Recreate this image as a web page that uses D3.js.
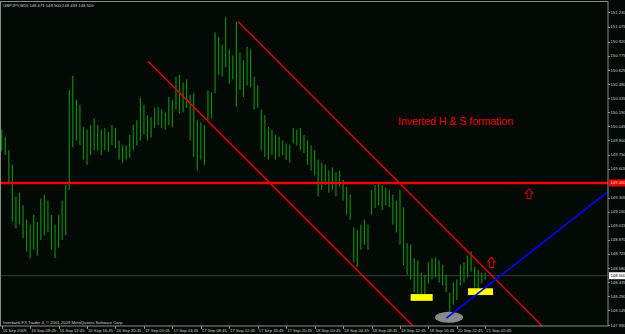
<!DOCTYPE html>
<meta charset="utf-8">
<script src="https://cdnjs.cloudflare.com/ajax/libs/d3/7.8.5/d3.min.js"></script>
<style>

body {
  margin: 0;
  background: #000;
}

svg {
  display: block;
  font-family: "Liberation Sans", Arial, sans-serif;
}

.bar {
  stroke: #0b8c0b;
  stroke-width: 1.2px;
}

.frame {
  fill: none;
  stroke: #8c8c8c;
  stroke-width: 1px;
}

.lbl {
  fill: #c8c8c8;
  font-size: 4.2px;
}

</style>
<body>
<script>

var width = 625,
    height = 334;

var title = "GBPJPY,M15  148.471 148.500 148.433 148.500",
    footer = "Interbank FX Trader 4, \u00a9 2001-2009 MetaQuotes Software Corp.",
    note = "Inverted H & S formation";

// M15 bars, one entry for every second bar (index = 2 * k)
var barStep = 2;
var highs = [
  150.01,149.94,149.80,149.65,149.32,149.36,149.23,149.08,149.03,149.13,
  149.06,149.30,149.34,149.28,149.13,149.03,149.13,149.28,149.44,150.42,
  150.57,150.32,150.27,150.04,150.01,150.06,150.13,150.06,150.01,150.03,
  149.99,150.06,150.03,149.90,149.85,149.85,149.96,150.06,150.11,150.34,
  150.27,150.16,150.14,150.24,150.25,150.22,150.19,150.35,150.32,150.56,
  150.58,150.50,150.53,150.37,150.39,150.11,150.09,150.06,150.42,150.40,
  151.02,150.97,150.89,151.18,150.84,150.78,151.13,150.81,150.73,150.87,
  150.84,150.56,150.47,150.22,150.16,150.04,150.01,149.96,149.94,149.90,
  149.87,149.85,150.03,150.01,150.03,149.96,149.90,149.85,149.80,149.70,
  149.67,149.65,149.59,149.62,149.57,149.59,149.49,149.42,149.34,149.00,
  148.97,149.03,149.08,149.03,149.39,149.44,149.46,149.44,149.41,149.39,
  149.34,149.28,149.39,149.21,148.84,148.82,148.68,148.66,148.53,148.51,
  148.64,148.68,148.69,148.66,148.61,148.51,148.32,148.43,148.46,148.61,
  148.64,148.71,148.75,148.59,148.56,148.53,148.53
];
var lows = [
  149.80,149.75,149.47,149.06,148.99,149.03,148.89,148.75,148.68,148.77,
  148.71,148.87,148.92,148.95,148.77,148.68,148.79,148.87,148.92,149.39,
  149.83,149.90,149.85,149.70,149.65,149.75,149.80,149.80,149.75,149.80,
  149.78,149.85,149.82,149.70,149.67,149.70,149.72,149.80,149.85,149.90,
  149.96,149.90,149.93,150.03,150.06,150.03,150.01,150.06,150.04,150.22,
  150.18,150.19,150.24,149.90,149.73,149.59,149.70,149.65,150.11,150.13,
  150.39,150.58,150.56,150.66,150.49,150.53,150.25,150.42,150.35,150.47,
  150.45,150.22,150.24,149.80,149.73,149.70,149.75,149.70,149.73,149.75,
  149.70,149.67,149.87,149.85,149.80,149.77,149.65,149.59,149.54,149.32,
  149.39,149.44,149.36,149.39,149.32,149.42,149.28,149.13,149.08,148.64,
  148.59,148.77,148.82,148.77,149.13,149.20,149.23,149.18,149.23,149.21,
  149.03,148.95,148.82,148.61,148.51,148.46,148.33,148.27,148.25,148.28,
  148.42,148.46,148.48,148.43,148.40,148.33,148.11,148.20,148.25,148.40,
  148.43,148.48,148.54,148.38,148.37,148.42,148.46
];

// a time label every 16 bars
var timeEvery = 16;
var timeLabels = [
  "16 Sep 2009", "16 Sep 08:45", "16 Sep 12:45", "16 Sep 16:45", "16 Sep 20:45",
  "17 Sep 00:45", "17 Sep 04:45", "17 Sep 08:45", "17 Sep 12:45", "17 Sep 16:45",
  "17 Sep 20:45", "18 Sep 00:45", "18 Sep 04:45", "18 Sep 08:45", "18 Sep 12:45",
  "18 Sep 16:45", "20 Sep 22:45", "21 Sep 02:45"
];

var priceLabels = [
  "151.230", "151.075", "150.920", "150.775", "150.625", "150.480", "150.335",
  "150.190", "150.045", "149.900", "149.750", "149.605", "149.305", "149.160",
  "149.015", "148.870", "148.725", "148.580", "148.435", "148.290", "148.145",
  "147.990"
];

var lastPrice = 148.500,
    levelPrice = 149.46;

// drawn objects: [bar index, price]
var channelUpper = [[133, 151.13], [304, 147.98]],
    channelLower = [[82.3, 150.72], [231.3, 147.98]],
    trendBlue = [[250.1, 148.06], [345, 149.43]];
var boxes = [[230, 242.4, 148.31, 148.24], [262.3, 276.3, 148.37, 148.30]];
var shoulderMark = [251.6, 148.07];
var arrows = [[296.6, 149.40], [275.5, 148.69]];
var notePos = [222.9, 150.06];

var plot = {left: 1, right: 608, top: 1.5, bottom: 326};

var x = d3.scaleLinear().domain([0, 341]).range([1.7, 608]);
var y = d3.scaleLinear().domain([147.99, 151.23]).range([325, 12]);

var svg = d3.select("body").append("svg")
    .attr("width", width)
    .attr("height", height);

svg.append("rect")
    .attr("width", width)
    .attr("height", height)
    .attr("fill", "#030a06");

svg.append("defs").append("clipPath")
    .attr("id", "plot-clip")
  .append("rect")
    .attr("x", plot.left)
    .attr("y", plot.top)
    .attr("width", plot.right - plot.left)
    .attr("height", plot.bottom - plot.top);

var g = svg.append("g").attr("clip-path", "url(#plot-clip)");

// current price line
g.append("line")
    .attr("x1", plot.left).attr("x2", plot.right)
    .attr("y1", y(lastPrice)).attr("y2", y(lastPrice))
    .attr("stroke", "#3a3a3a")
    .attr("stroke-width", 1);

// bars
g.selectAll(".bar")
    .data(highs)
  .enter().append("line")
    .attr("class", "bar")
    .attr("x1", function(d, i) { return x(i * barStep); })
    .attr("x2", function(d, i) { return x(i * barStep); })
    .attr("y1", function(d) { return y(d); })
    .attr("y2", function(d, i) { return y(lows[i]); });

// annotations
g.selectAll(".box")
    .data(boxes)
  .enter().append("rect")
    .attr("x", function(d) { return x(d[0]); })
    .attr("y", function(d) { return y(d[2]); })
    .attr("width", function(d) { return x(d[1]) - x(d[0]); })
    .attr("height", function(d) { return y(d[3]) - y(d[2]); })
    .attr("fill", "#ffff00");

g.append("ellipse")
    .attr("cx", x(shoulderMark[0]))
    .attr("cy", y(shoulderMark[1]))
    .attr("rx", 14)
    .attr("ry", 5.5)
    .attr("fill", "#8a8a8a");

var line = d3.line()
    .x(function(d) { return x(d[0]); })
    .y(function(d) { return y(d[1]); });

g.append("line")
    .attr("x1", plot.left).attr("x2", plot.right)
    .attr("y1", y(levelPrice)).attr("y2", y(levelPrice))
    .attr("stroke", "#f00000")
    .attr("stroke-width", 2.4);

[channelUpper, channelLower].forEach(function(pts) {
  g.append("path")
      .attr("d", line(pts))
      .attr("fill", "none")
      .attr("stroke", "#e80000")
      .attr("stroke-width", 1.5);
});

g.append("path")
    .attr("d", line(trendBlue))
    .attr("fill", "none")
    .attr("stroke", "#0000ff")
    .attr("stroke-width", 1.6);

g.selectAll(".arrow")
    .data(arrows)
  .enter().append("path")
    .attr("transform", function(d) { return "translate(" + x(d[0]) + "," + y(d[1]) + ")"; })
    .attr("d", "M0,0L4,4.5L2,4.5L2,10L-2,10L-2,4.5L-4,4.5Z")
    .attr("fill", "none")
    .attr("stroke", "#c80000")
    .attr("stroke-width", 1.1);

g.append("text")
    .attr("x", x(notePos[0]))
    .attr("y", y(notePos[1]))
    .attr("fill", "#e80000")
    .style("font-size", "10.5px")
    .text(note);

// frame
svg.append("rect")
    .attr("class", "frame")
    .attr("x", plot.left - 0.5)
    .attr("y", plot.top)
    .attr("width", plot.right - plot.left + 0.5)
    .attr("height", plot.bottom - plot.top);

// price scale
var py = svg.append("g");
py.selectAll(".ptick")
    .data(priceLabels)
  .enter().append("line")
    .attr("x1", plot.right).attr("x2", plot.right + 2)
    .attr("y1", function(d) { return Math.round(y(+d)) + 0.5; })
    .attr("y2", function(d) { return Math.round(y(+d)) + 0.5; })
    .attr("stroke", "#8c8c8c");
py.selectAll(".plbl")
    .data(priceLabels)
  .enter().append("text")
    .attr("class", "lbl")
    .attr("x", plot.right + 2.5)
    .attr("y", function(d) { return y(+d) + 1.5; })
    .text(function(d) { return d; });

py.append("rect")
    .attr("x", plot.right + 1).attr("y", y(levelPrice) - 3.5)
    .attr("width", 17).attr("height", 7)
    .attr("fill", "#f00000");
py.append("text")
    .attr("class", "lbl")
    .attr("x", plot.right + 2.5)
    .attr("y", y(levelPrice) + 1.5)
    .style("fill", "#ffd0d0")
    .text(levelPrice.toFixed(3));

py.append("rect")
    .attr("x", plot.right + 1).attr("y", y(lastPrice) - 3.5)
    .attr("width", 17).attr("height", 7)
    .attr("fill", "#ffffff");
py.append("text")
    .attr("class", "lbl")
    .attr("x", plot.right + 2.5)
    .attr("y", y(lastPrice) + 1.5)
    .style("fill", "#000")
    .text(lastPrice.toFixed(3));

// time scale
var tx = svg.append("g");
tx.selectAll(".ttick")
    .data(timeLabels)
  .enter().append("line")
    .attr("x1", function(d, i) { return Math.round(x(i * timeEvery)) + 0.5; })
    .attr("x2", function(d, i) { return Math.round(x(i * timeEvery)) + 0.5; })
    .attr("y1", plot.bottom).attr("y2", plot.bottom + 3)
    .attr("stroke", "#8c8c8c");
tx.selectAll(".tlbl")
    .data(timeLabels)
  .enter().append("text")
    .attr("class", "lbl")
    .attr("x", function(d, i) { return x(i * timeEvery) + 1; })
    .attr("y", 332)
    .text(function(d) { return d; });

svg.append("text")
    .attr("class", "lbl")
    .attr("x", 3)
    .attr("y", 7)
    .text(title);

svg.append("text")
    .attr("class", "lbl")
    .attr("x", 3)
    .attr("y", 324)
    .text(footer);

</script>
